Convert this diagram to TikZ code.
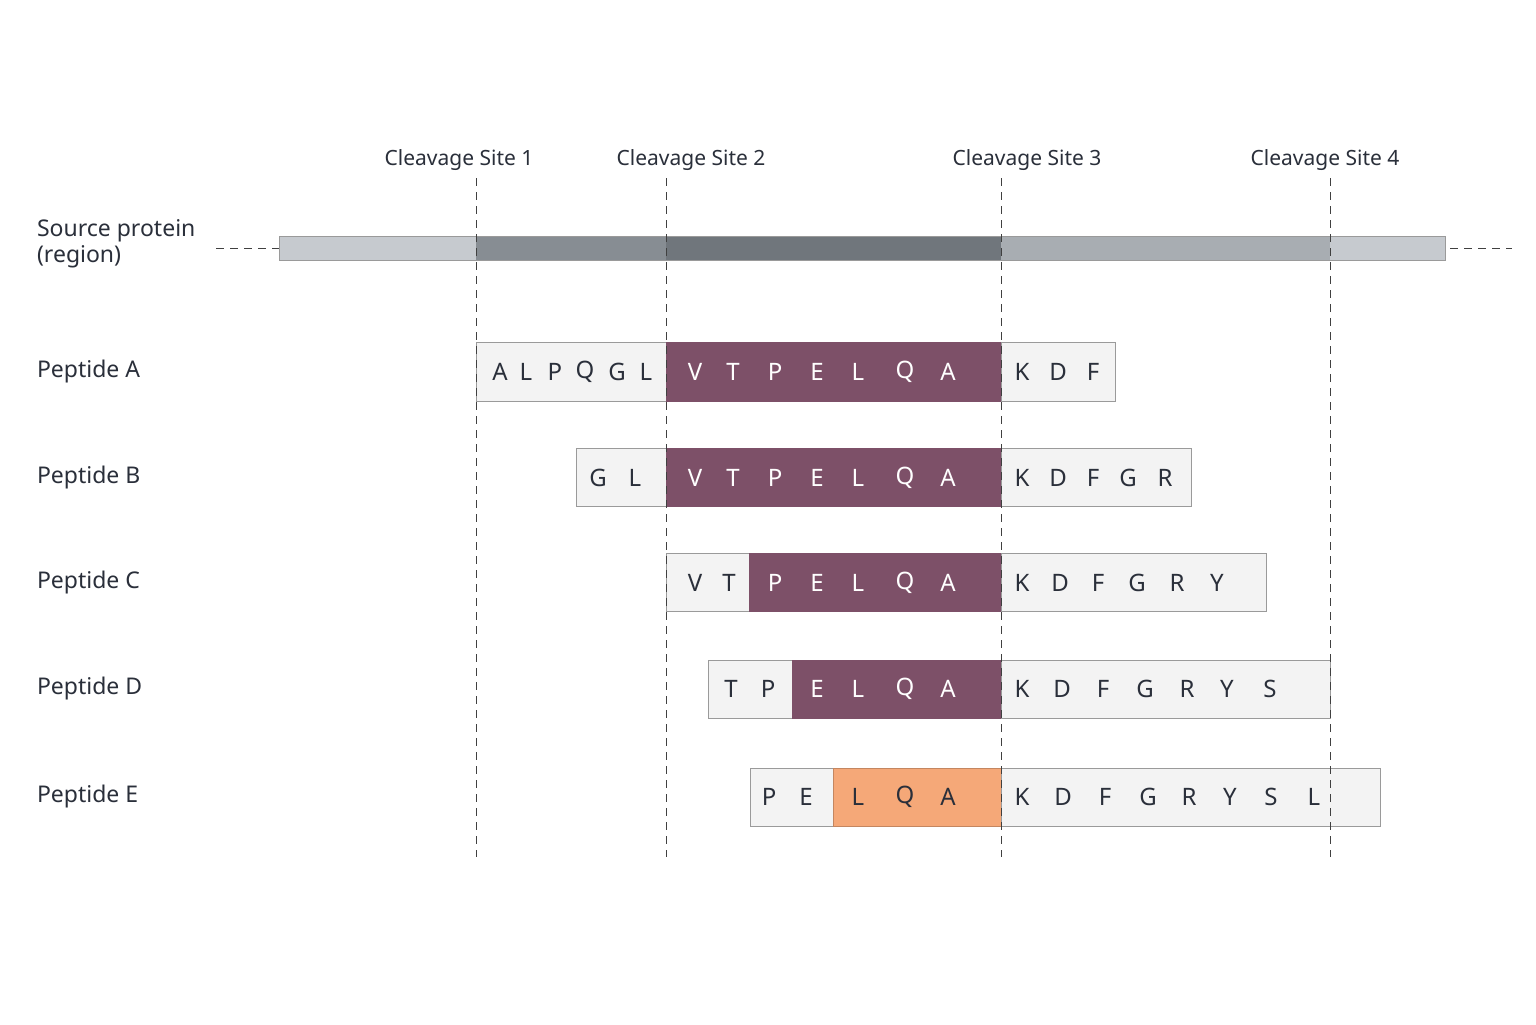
\documentclass[tikz,border=0pt]{standalone}
\usepackage{fontspec}
\setmainfont{Noto Sans}
\definecolor{pur}{HTML}{7D5068}
\definecolor{org}{HTML}{F5A878}
\definecolor{lbox}{HTML}{F3F3F3}
\definecolor{bord}{HTML}{9A9A9A}
\definecolor{txt}{HTML}{2A2F3A}
\begin{document}
\begin{tikzpicture}[x=0.5pt,y=-0.5pt,
  lab/.style={anchor=west,font=\fontsize{11.5}{13}\selectfont,text=txt},
  site/.style={font=\fontsize{10.5}{12}\selectfont,text=txt},
  aa/.style={font=\fontsize{12}{14}\selectfont,text=txt},
  aw/.style={font=\fontsize{12}{14}\selectfont,text=white},
  lb/.style={fill=lbox,draw=bord,line width=0.5pt},
  pb/.style={fill=pur,draw=pur,line width=0.5pt},
  ob/.style={fill=org,draw=org!80!black,line width=0.5pt},
  vd/.style={dash pattern=on 4pt off 3pt,line width=0.5pt,draw=black!75}]
\fill[white] (0,0) rectangle (1536,1024);
% source bar
\fill[draw=bord,fill={rgb,255:red,198;green,202;blue,207}] (279,236) rectangle (1445,260);
\fill[fill={rgb,255:red,135;green,141;blue,147}] (476,236.5) rectangle (666,259.5);
\fill[fill={rgb,255:red,112;green,118;blue,124}] (666,236.5) rectangle (1001,259.5);
\fill[fill={rgb,255:red,168;green,173;blue,178}] (1001,236.5) rectangle (1330,259.5);
\draw[draw=bord,line width=0.5pt] (279,236) rectangle (1445,260);
\coordinate (l1) at (216,248); \coordinate (l2) at (279,248);
\coordinate (r1) at (1450,248); \coordinate (r2) at (1512,248);
\draw[vd] (l1)--(l2); \draw[vd] (r1)--(r2);
\node[lab,align=left] (src) at (30,244) {Source protein\\(region)};
% peptides
\def\row#1#2#3#4#5#6{}
% A
\draw[lb] (476,342) rectangle (666,401);
\draw[pb] (666,342) rectangle (1001,401);
\draw[lb] (1001,342) rectangle (1115,401);
% B
\draw[lb] (576,448) rectangle (666,506);
\draw[pb] (666,448) rectangle (1001,506);
\draw[lb] (1001,448) rectangle (1191,506);
% C
\draw[lb] (666,553) rectangle (749,611);
\draw[pb] (749,553) rectangle (1001,611);
\draw[lb] (1001,553) rectangle (1266,611);
% D
\draw[lb] (708,660) rectangle (792,718);
\draw[pb] (792,660) rectangle (1001,718);
\draw[lb] (1001,660) rectangle (1330,718);
% E
\draw[lb] (750,768) rectangle (833,826);
\draw[ob] (833,768) rectangle (1001,826);
\draw[lb] (1001,768) rectangle (1380,826);
% dashed verticals
\foreach \x/\n in {476/1,666/2,1001/3,1330/4}{
  \coordinate (t\n) at (\x,178); \coordinate (b\n) at (\x,857);
  \draw[vd] (t\n)--(b\n);}
\node[site] (s1) at (459,160) {Cleavage Site 1};
\node[site] (s2) at (691,160) {Cleavage Site 2};
\node[site] (s3) at (1027,160) {Cleavage Site 3};
\node[site] (s4) at (1325,160) {Cleavage Site 4};
% labels
\node[lab] (pA) at (30,372) {Peptide A};
\node[lab] (pB) at (30,478) {Peptide B};
\node[lab] (pC) at (30,583) {Peptide C};
\node[lab] (pD) at (30,689) {Peptide D};
\node[lab] (pE) at (30,797) {Peptide E};
% letters
\foreach \x/\c in {500/A,526/L,555/P,585/Q,617/G,646/L,1022/K,1058/D,1093/F}
  \node[aa] at (\x,372) {\c};
\foreach \x/\c in {695/V,733/T,775/P,817/E,858/L,905/Q,948/A}
  \node[aw] at (\x,372) {\c};
\foreach \x/\c in {598/G,635/L,1022/K,1058/D,1093/F,1128/G,1165/R}
  \node[aa] at (\x,478) {\c};
\foreach \x/\c in {695/V,733/T,775/P,817/E,858/L,905/Q,948/A}
  \node[aw] at (\x,478) {\c};
\foreach \x/\c in {695/V,729/T,1022/K,1060/D,1098/F,1137/G,1177/R,1217/Y}
  \node[aa] at (\x,583) {\c};
\foreach \x/\c in {775/P,817/E,858/L,905/Q,948/A}
  \node[aw] at (\x,583) {\c};
\foreach \x/\c in {731/T,768/P,1022/K,1062/D,1103/F,1145/G,1187/R,1227/Y,1270/S}
  \node[aa] at (\x,689) {\c};
\foreach \x/\c in {817/E,858/L,905/Q,948/A}
  \node[aw] at (\x,689) {\c};
\foreach \x/\c in {769/P,806/E,858/L,905/Q,948/A,1022/K,1063/D,1105/F,1148/G,1189/R,1230/Y,1271/S,1314/L}
  \node[aa] at (\x,797) {\c};
\end{tikzpicture}
\end{document}
